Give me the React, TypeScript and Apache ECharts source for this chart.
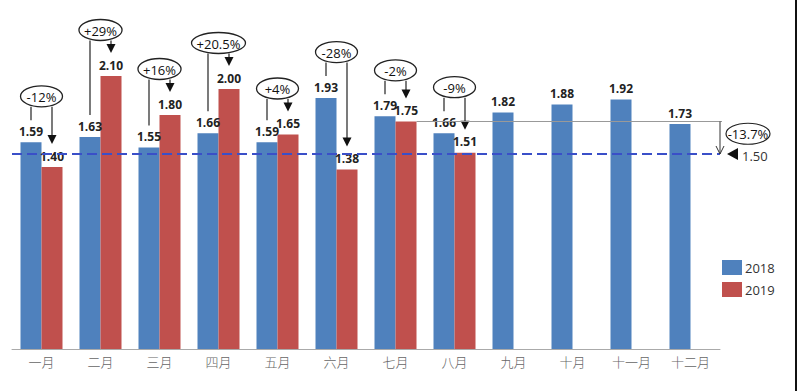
import React, { useEffect, useRef } from "react";
import * as echarts from "echarts";

const months = ["一月", "二月", "三月", "四月", "五月", "六月", "七月", "八月", "九月", "十月", "十一月", "十二月"];
const values2018 = [1.59, 1.63, 1.55, 1.66, 1.59, 1.93, 1.79, 1.66, 1.82, 1.88, 1.92, 1.73];
const values2019: (number | null)[] = [1.4, 2.1, 1.8, 2.0, 1.65, 1.38, 1.75, 1.51, null, null, null, null];
const changeLabels = ["-12%", "+29%", "+16%", "+20.5%", "+4%", "-28%", "-2%", "-9%"];
const referenceHigh = 1.75;
const referenceLow = 1.5;
const referenceChange = "-13.7%";
const referenceStartMonth = 6;

const BLUE = "#4f81bd";
const RED = "#c0504d";
const FONT = "'Open Sans', 'Noto Sans', sans-serif";
const HALF = 10.5;

function textWidth(s: string): number {
  let w = 0;
  for (const ch of s) {
    if (ch === "-") w += 4.2;
    else if (ch === ".") w += 3.5;
    else if (ch === "%") w += 10.9;
    else w += 7.4;
  }
  return w;
}

export default function App() {
  const ref = useRef<HTMLDivElement>(null);
  useEffect(() => {
    if (!ref.current) return;
    const chart = echarts.init(ref.current, undefined, { renderer: "svg" });
    const annData = changeLabels.map((_, i) => [i, values2018[i], values2019[i]]);
    const option: any = {
      animation: false,
      backgroundColor: "#fff",
      grid: { left: 12, right: 80, top: 11, bottom: 42 },
      legend: {
        data: ["2018", "2019"],
        orient: "vertical",
        left: 717,
        top: 255,
        icon: "rect",
        itemWidth: 20,
        itemHeight: 15,
        itemGap: 7,
        textStyle: { fontSize: 13, color: "#333", fontFamily: FONT, padding: [0, 0, 0, -2] },
      },
      xAxis: {
        type: "category",
        data: months,
        axisTick: { show: false },
        axisLine: { lineStyle: { color: "#aaa", width: 1 } },
        axisLabel: { color: "#666", fontSize: 13, margin: 6, fontFamily: "'Noto Sans CJK SC', sans-serif", fontWeight: 300 },
      },
      yAxis: { type: "value", min: 0, max: 2.6, show: false, splitLine: { show: false } },
      graphic: [
        { type: "rect", shape: { x: 795, y: 0, width: 2, height: 391 }, style: { fill: "#111" } },
      ],
      series: [
        {
          name: "2018",
          type: "bar",
          data: values2018,
          barWidth: 21,
          barGap: "0%",
          itemStyle: { color: BLUE },
          label: { show: true, position: "top", distance: 5, fontSize: 12, fontWeight: "bold", color: "#222", fontFamily: FONT, formatter: (p: any) => p.value.toFixed(2) },
          markLine: {
            silent: true,
            symbol: "none",
            label: { show: false },
            lineStyle: { color: "#3a4fc8", type: [10, 5], width: 2 },
            data: [{ yAxis: referenceLow }],
            z: 5,
          },
        },
        {
          name: "2019",
          type: "bar",
          data: values2019,
          barWidth: 21,
          barGap: "0%",
          itemStyle: { color: RED },
          label: { show: true, position: "top", distance: 5, fontSize: 12, fontWeight: "bold", color: "#222", fontFamily: FONT, formatter: (p: any) => (p.value == null ? "" : p.value.toFixed(2)) },
        },
        {
          type: "custom",
          z: 10,
          clip: false,
          silent: true,
          data: annData,
          renderItem: (params: any, api: any) => {
            const i = api.value(0);
            const pB = api.coord([i, api.value(1)]);
            const pR = api.coord([i, api.value(2)]);
            const cx = pB[0];
            const bx = cx - HALF;
            const rx = cx + HALF;
            const top = Math.min(pB[1], pR[1]);
            const cy = top - 46;
            const ry = 10.5;
            const label = changeLabels[i];
            const erx = Math.max(21, textWidth(label) / 2 + 5);
            const tipY = pR[1] - 23;
            const stroke = { stroke: "#222", lineWidth: 1.2 };
            return {
              type: "group",
              children: [
                { type: "line", shape: { x1: bx, y1: cy + ry, x2: bx, y2: pB[1] - 22 }, style: stroke },
                { type: "line", shape: { x1: rx, y1: cy + ry, x2: rx, y2: tipY - 6 }, style: stroke },
                { type: "polygon", shape: { points: [[rx - 4.5, tipY - 9], [rx + 4.5, tipY - 9], [rx, tipY]] }, style: { fill: "#111" } },
                { type: "ellipse", shape: { cx, cy, rx: erx, ry }, style: { fill: "#fff", stroke: "#222", lineWidth: 1.3 } },
                { type: "text", style: { text: label, x: cx, y: cy + 0.5, align: "center", verticalAlign: "middle", fontSize: 13, fill: "#111", fontFamily: FONT } },
              ],
            };
          },
        },
        {
          type: "custom",
          z: 10,
          clip: false,
          silent: true,
          data: [[referenceStartMonth, referenceHigh, referenceLow]],
          renderItem: (params: any, api: any) => {
            const i = api.value(0);
            const pH = api.coord([i, api.value(1)]);
            const pL = api.coord([i, api.value(2)]);
            const cs = params.coordSys;
            const right = cs.x + cs.width;
            const startX = pH[0] + 2 * HALF;
            const yH = pH[1];
            const yL = pL[1];
            const cy = (yH + yL) / 2 - 4;
            return {
              type: "group",
              children: [
                { type: "line", shape: { x1: startX, y1: yH, x2: right + 2, y2: yH }, style: { stroke: "#999", lineWidth: 1 } },
                { type: "line", shape: { x1: right, y1: yH, x2: right, y2: yL }, style: { stroke: "#333", lineWidth: 1 } },
                { type: "polyline", shape: { points: [[right - 4, yL - 8], [right, yL], [right + 4, yL - 8]] }, style: { stroke: "#333", lineWidth: 1, fill: null } },
                { type: "ellipse", shape: { cx: right + 28, cy, rx: 22, ry: 10.5 }, style: { fill: "#fff", stroke: "#222", lineWidth: 1.2 } },
                { type: "text", style: { text: referenceChange, x: right + 28, y: cy + 0.5, align: "center", verticalAlign: "middle", fontSize: 13, fill: "#111", fontFamily: FONT } },
                { type: "polygon", shape: { points: [[right + 7, yL], [right + 18, yL - 6], [right + 18, yL + 6]] }, style: { fill: "#111" } },
                { type: "text", style: { text: referenceLow.toFixed(2), x: right + 22, y: yL + 2, align: "left", verticalAlign: "middle", fontSize: 13, fill: "#333", fontFamily: FONT } },
              ],
            };
          },
        },
      ],
    };
    chart.setOption(option);
    return () => chart.dispose();
  }, []);
  return <div ref={ref} style={{ width: 800, height: 391, position: "absolute", left: 0, top: 0 }} />;
}
